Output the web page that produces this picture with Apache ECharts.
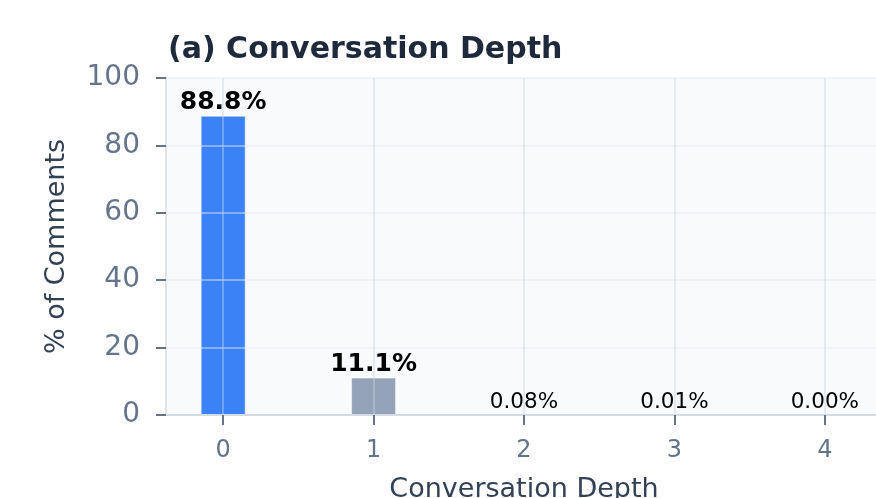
<!DOCTYPE html>
<html>
<head>
<meta charset="utf-8">
<script src="https://cdn.jsdelivr.net/npm/echarts@6/dist/echarts.min.js"></script>
<style>
  html, body { margin: 0; padding: 0; background: #ffffff; }
  #chart { width: 876px; height: 498px; }
</style>
</head>
<body>
<div id="chart"></div>
<script>
// ---------------------------------------------------------------------------
// Data
// ---------------------------------------------------------------------------
const depths = [0, 1, 2, 3, 4];
const pctComments = [88.8, 11.1, 0.08, 0.01, 0.00];
const yTicks = [0, 20, 40, 60, 80, 100];

const FONT = '"DejaVu Sans", sans-serif';
const HIGHLIGHT = '#3b82f6';   // depth 0
const OTHER = '#94a3b8';       // replies

function fmtLabel(v) {
  return v >= 1 ? v.toFixed(1) + '%' : v.toFixed(2) + '%';
}

const seriesData = depths.map((d, i) => {
  const v = pctComments[i];
  const big = v >= 1;
  return {
    value: [d, v],
    itemStyle: { color: i === 0 ? HIGHLIGHT : OTHER },
    label: {
      show: true,
      position: 'top',
      distance: 1,
      formatter: fmtLabel(v),
      color: '#000000',
      fontFamily: FONT,
      fontWeight: big ? 'bold' : 'normal',
      fontSize: big ? 25 : 21.5,
    },
  };
});

const chart = echarts.init(document.getElementById('chart'), null, { renderer: 'canvas' });

chart.setOption({
  animation: false,
  backgroundColor: '#ffffff',
  title: {
    text: '(a) Conversation Depth',
    left: 163,
    top: 30,
    textStyle: { fontFamily: FONT, fontSize: 30, fontWeight: 'bold', color: '#1e293b' },
  },
  grid: {
    left: 166,
    right: -6,
    top: 78,
    bottom: 83,
    outerBoundsMode: 'none',
    show: true,
    backgroundColor: '#f8fafc',
    borderWidth: 0,
  },
  xAxis: {
    type: 'value',
    min: -0.38,
    max: 4.38,
    z: 3,
    name: 'Conversation Depth',
    nameLocation: 'middle',
    nameGap: 61,
    nameTextStyle: { fontFamily: FONT, fontSize: 27, color: '#334155' },
    axisLine: { show: true, onZero: false, lineStyle: { color: '#d5dbe4', width: 2 } },
    axisTick: { show: true, length: 10, customValues: depths, lineStyle: { color: '#64748b', width: 2 } },
    axisLabel: {
      customValues: depths,
      margin: 24,
      fontFamily: FONT,
      fontSize: 24,
      color: '#64748b',
    },
    splitLine: { show: true, lineStyle: { color: 'rgba(203,213,225,0.55)', width: 1.5 } },
  },
  yAxis: {
    type: 'value',
    min: yTicks[0],
    max: yTicks[yTicks.length - 1],
    interval: 20,
    z: 3,
    name: '% of Comments',
    nameLocation: 'middle',
    nameGap: 96,
    nameTextStyle: { fontFamily: FONT, fontSize: 27, color: '#334155' },
    axisLine: { show: true, onZero: false, lineStyle: { color: '#dfe4eb', width: 2 } },
    axisTick: { show: true, length: 10, lineStyle: { color: '#64748b', width: 2 } },
    axisLabel: { margin: 26, fontFamily: FONT, fontSize: 28, color: '#64748b' },
    splitLine: { show: true, lineStyle: { color: 'rgba(226,232,240,0.6)', width: 1.5 } },
  },
  series: [
    {
      type: 'bar',
      barWidth: 45,
      data: seriesData,
      itemStyle: { borderColor: 'rgba(255,255,255,0.5)', borderWidth: 1 },
    },
  ],
});
</script>
</body>
</html>
